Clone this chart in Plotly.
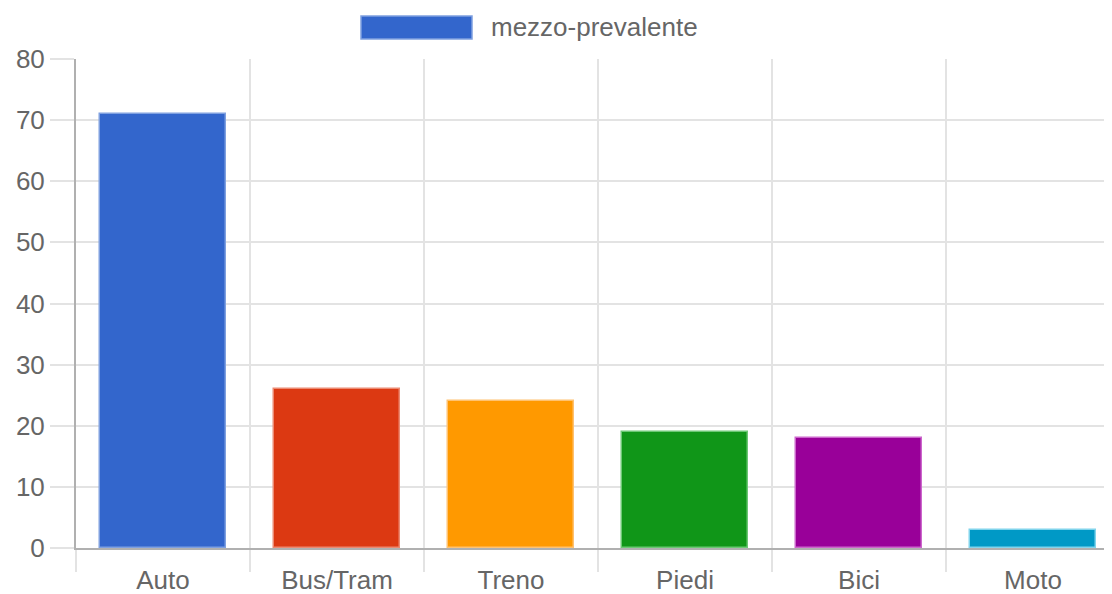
import plotly.graph_objects as go

# dati
categorie = ["Auto", "Bus/Tram", "Treno", "Piedi", "Bici", "Moto"]
valori = [71, 26, 24, 19, 18, 3]
colori = ["#3366CC", "#DC3912", "#FF9900", "#109618", "#990099", "#0099C6"]
bordi = ["#7fa0e0", "#ec8a72", "#ffc270", "#6cc874", "#cc66cc", "#80d4ec"]
nome_serie = "mezzo-prevalente"

FONT = "Liberation Sans, Arial, sans-serif"
GRIGIO_TESTO = "#666666"
GRIGIO_GRIGLIA = "#e3e3e3"
GRIGIO_ASSE = "#b0b0b0"

# area del grafico (coordinate della figura)
L, T, W, H = 68, 51, 1044, 489

posizioni = list(range(len(categorie)))

fig = go.Figure()
fig.add_trace(go.Bar(
    x=posizioni, y=valori,
    name=nome_serie,
    width=0.72,
    marker=dict(color=colori, line=dict(color=bordi, width=1.5)),
    showlegend=False,
))

fig.update_layout(
    width=1112, height=594,
    margin=dict(l=L, r=1112 - L - W, t=T, b=594 - T - H),
    plot_bgcolor="white", paper_bgcolor="white",
    font=dict(family=FONT, size=26, color=GRIGIO_TESTO),
    bargap=0,
)

fig.update_xaxes(
    range=[-0.5, 5.5],
    tickmode="array", tickvals=posizioni, ticktext=categorie,
    showgrid=False, ticks="", ticklen=0,
    ticklabelstandoff=8,
    tickfont=dict(size=26, color=GRIGIO_TESTO),
    showline=True, linecolor=GRIGIO_ASSE, linewidth=1.5,
    zeroline=False,
    minor=dict(tick0=-0.5, dtick=1, showgrid=True, gridcolor=GRIGIO_GRIGLIA,
               gridwidth=1.5, ticks="outside", ticklen=22, tickcolor=GRIGIO_GRIGLIA,
               tickwidth=1.5),
)

fig.update_yaxes(
    range=[0, 80], dtick=10,
    showgrid=True, gridcolor=GRIGIO_GRIGLIA, gridwidth=1.5,
    ticks="outside", ticklen=24, tickcolor=GRIGIO_GRIGLIA, tickwidth=1.5,
    tickfont=dict(size=26, color=GRIGIO_TESTO),
    showline=True, linecolor=GRIGIO_ASSE, linewidth=2,
    zeroline=False,
)

# legenda in stile Chart.js
fig.add_shape(type="rect", xref="paper", yref="paper",
              x0=(353 - L) / W, x1=(464 - L) / W,
              y0=1 + (T - 31) / H, y1=1 + (T - 8) / H,
              fillcolor=colori[0], line=dict(color=bordi[0], width=1.5))
fig.add_annotation(text=nome_serie, xref="paper", yref="paper",
                   x=(481 - L) / W, y=1 + (T - 19) / H,
                   xanchor="left", yanchor="middle", showarrow=False,
                   font=dict(size=26, color=GRIGIO_TESTO))

fig.write_html("out.html")
